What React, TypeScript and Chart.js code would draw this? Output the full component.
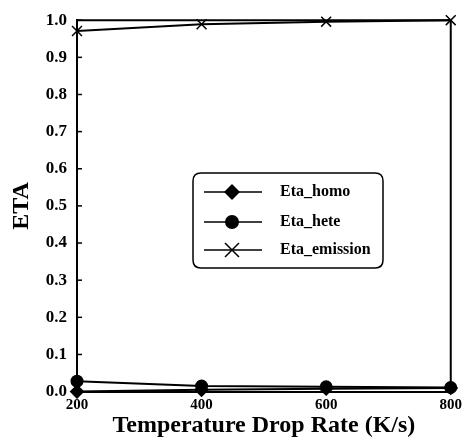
import React, { useEffect, useRef } from "react";
import { Chart, registerables } from "chart.js";

Chart.register(...registerables);

const rates = [200, 400, 600, 800];
const etaHomo = [0.0, 0.005, 0.008, 0.01];
const etaHete = [0.028, 0.015, 0.013, 0.011];
const etaEmission = [0.971, 0.989, 0.996, 1.0];
const seriesNames = ["Eta_homo", "Eta_hete", "Eta_emission"];
const yTicks = [0, 0.1, 0.2, 0.3, 0.4, 0.5, 0.6, 0.7, 0.8, 0.9, 1.0];

const FONT = "'Liberation Serif', 'Times New Roman', serif";

const framePlugin = {
  id: "frameAndLegend",
  afterDraw(chart: any) {
    const { ctx, chartArea } = chart;
    const ys = chart.scales.y;
    ctx.save();
    ctx.strokeStyle = "#000";
    ctx.lineWidth = 2;
    ctx.beginPath();
    ctx.moveTo(chartArea.left, chartArea.bottom);
    ctx.lineTo(chartArea.left, chartArea.top);
    ctx.lineTo(chartArea.right, chartArea.top);
    ctx.lineTo(chartArea.right, chartArea.bottom);
    ctx.stroke();
    // inward ticks on y axis
    ctx.lineWidth = 1.5;
    for (const v of yTicks) {
      const py = ys.getPixelForValue(v);
      ctx.beginPath();
      ctx.moveTo(chartArea.left, py);
      ctx.lineTo(chartArea.left + 5, py);
      ctx.stroke();
    }
    // legend box
    const bx = 193, by = 173, bw = 190, bh = 95, r = 8;
    ctx.fillStyle = "#fff";
    ctx.lineWidth = 1.5;
    ctx.beginPath();
    ctx.moveTo(bx + r, by);
    ctx.lineTo(bx + bw - r, by);
    ctx.quadraticCurveTo(bx + bw, by, bx + bw, by + r);
    ctx.lineTo(bx + bw, by + bh - r);
    ctx.quadraticCurveTo(bx + bw, by + bh, bx + bw - r, by + bh);
    ctx.lineTo(bx + r, by + bh);
    ctx.quadraticCurveTo(bx, by + bh, bx, by + bh - r);
    ctx.lineTo(bx, by + r);
    ctx.quadraticCurveTo(bx, by, bx + r, by);
    ctx.closePath();
    ctx.fill();
    ctx.stroke();
    const rows = [192, 222, 250];
    ctx.font = `bold 16px ${FONT}`;
    ctx.textBaseline = "middle";
    ctx.textAlign = "left";
    rows.forEach((ry, i) => {
      ctx.fillStyle = "#000";
      ctx.strokeStyle = "#000";
      ctx.lineWidth = 1.5;
      ctx.beginPath();
      ctx.moveTo(204, ry);
      ctx.lineTo(262, ry);
      ctx.stroke();
      const mx = 232;
      if (i === 0) {
        ctx.beginPath();
        ctx.moveTo(mx, ry - 8);
        ctx.lineTo(mx + 8, ry);
        ctx.lineTo(mx, ry + 8);
        ctx.lineTo(mx - 8, ry);
        ctx.closePath();
        ctx.fill();
      } else if (i === 1) {
        ctx.beginPath();
        ctx.arc(mx, ry, 7, 0, Math.PI * 2);
        ctx.fill();
      } else {
        ctx.beginPath();
        ctx.moveTo(mx - 7, ry - 7);
        ctx.lineTo(mx + 7, ry + 7);
        ctx.moveTo(mx + 7, ry - 7);
        ctx.lineTo(mx - 7, ry + 7);
        ctx.stroke();
      }
      ctx.fillText(seriesNames[i], 280, ry);
    });
    ctx.restore();
  },
};

export default function App() {
  const ref = useRef<HTMLCanvasElement>(null);
  useEffect(() => {
    if (!ref.current) return;
    const mk = (vals: number[]) => rates.map((x, i) => ({ x, y: vals[i] }));
    const chart = new Chart(ref.current, {
      type: "line",
      data: {
        datasets: [
          {
            label: seriesNames[0],
            data: mk(etaHomo),
            borderColor: "#000",
            backgroundColor: "#000",
            borderWidth: 2,
            pointStyle: "rectRot",
            pointRadius: 6,
            clip: false as any,
          },
          {
            label: seriesNames[1],
            data: mk(etaHete),
            borderColor: "#000",
            backgroundColor: "#000",
            borderWidth: 2,
            pointStyle: "circle",
            pointRadius: 5.5,
            clip: false as any,
          },
          {
            label: seriesNames[2],
            data: mk(etaEmission),
            borderColor: "#000",
            backgroundColor: "#000",
            borderWidth: 2,
            pointStyle: "crossRot",
            pointRadius: 7,
            pointBorderWidth: 1.5,
            clip: false as any,
          },
        ],
      },
      options: {
        animation: false,
        responsive: false,
        events: [],
        layout: { padding: { top: 16, right: 14, left: 0, bottom: 0 } },
        plugins: { legend: { display: false }, tooltip: { enabled: false } },
        scales: {
          x: {
            type: "linear",
            min: 200,
            max: 800,
            afterFit: (s: any) => {
              s.height = 49.4;
            },
            afterBuildTicks: (s: any) => {
              s.ticks = rates.map((v) => ({ value: v }));
            },
            grid: { display: false, drawTicks: false },
            border: { display: true, color: "#000", width: 2 },
            ticks: {
              color: "#000",
              padding: 5,
              maxRotation: 0,
              font: { family: FONT, size: 15, weight: "bold" },
              callback: (v: any) => String(v),
            },
            title: {
              display: true,
              text: "Temperature Drop Rate (K/s)",
              color: "#000",
              font: { family: FONT, size: 24, weight: "bold", lineHeight: 1.2 },
              padding: { top: 0, bottom: 1 },
            },
          },
          y: {
            min: 0,
            max: 1,
            afterFit: (s: any) => {
              s.width = 77;
            },
            afterBuildTicks: (s: any) => {
              s.ticks = yTicks.map((v) => ({ value: v }));
            },
            grid: { display: false, drawTicks: false },
            border: { display: true, color: "#000", width: 2 },
            ticks: {
              color: "#000",
              padding: 10,
              font: { family: FONT, size: 17, weight: "bold" },
              callback: (v: any) => Number(v).toFixed(1),
            },
            title: {
              display: true,
              text: "ETA",
              color: "#000",
              font: { family: FONT, size: 24, weight: "bold", lineHeight: 1.2 },
              padding: { top: 7, bottom: 0 },
            },
          },
        },
      },
      plugins: [framePlugin],
    });
    return () => chart.destroy();
  }, []);
  return (
    <div style={{ position: "absolute", left: 0, top: 0, width: 467, height: 441, background: "#fff" }}>
      <canvas ref={ref} width={467} height={441} style={{ width: 467, height: 441, display: "block" }} />
    </div>
  );
}
